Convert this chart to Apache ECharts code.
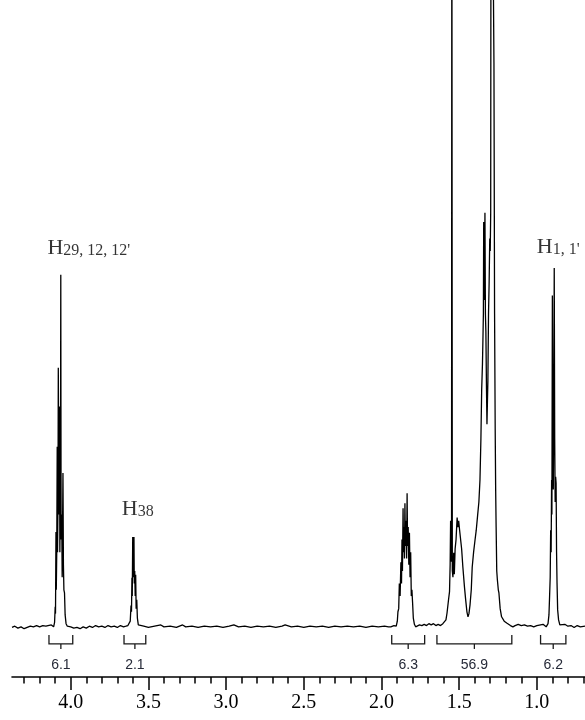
<!DOCTYPE html>
<html>
<head>
<meta charset="utf-8">
<title>1H NMR spectrum</title>
<script src="https://cdn.jsdelivr.net/npm/echarts@6/dist/echarts.min.js"></script>
<style>
  html, body { margin: 0; padding: 0; background: #fff; }
  #chart { width: 585px; height: 720px; }
</style>
</head>
<body>
<div id="chart"></div>
<script>
// Chemical shift window (ppm, axis runs right to left)
const ppmMin = 0.69;
const ppmMax = 4.378;

// Axis tick positions and labels
const majorTicks = [1.0, 1.5, 2.0, 2.5, 3.0, 3.5, 4.0];
const minorTicks = [0.7, 0.8, 0.9, 1.1, 1.2, 1.3, 1.4, 1.6, 1.7, 1.8, 1.9, 2.1, 2.2, 2.3, 2.4,
  2.6, 2.7, 2.8, 2.9, 3.1, 3.2, 3.3, 3.4, 3.6, 3.7, 3.8, 3.9, 4.1, 4.2, 4.3];

// Spectrum trace, [ppm, intensity] pairs, region by region
const baseLeft = [[4.378, 0.0], [4.36, 0.2], [4.34, -0.1], [4.32, 0.1], [4.30, -0.2], [4.28, 0.0],
  [4.26, 0.2], [4.24, 0.1], [4.22, 0.3], [4.20, 0.1], [4.18, 0.3], [4.16, 0.2]];
const peakH29 = [[4.150, 0.2], [4.125, 0.4], [4.110, 0.1], [4.104, 0.8], [4.100, 3.3], [4.098, 2.2],
  [4.095, 15.2], [4.093, 6.0], [4.090, 12.0], [4.087, 28.8], [4.085, 12.0], [4.082, 20.0],
  [4.080, 41.4], [4.077, 18.0], [4.075, 30.0], [4.072, 35.2], [4.070, 12.0], [4.066, 25.0],
  [4.064, 56.2], [4.062, 14.0], [4.058, 18.0], [4.055, 8.0], [4.050, 24.6], [4.047, 10.0],
  [4.044, 6.0], [4.040, 5.5], [4.036, 2.0], [4.030, 0.6], [4.022, 0.2]];
const baseMid1 = [[4.015, 0.3], [4.00, 0.1], [3.98, -0.1], [3.96, 0.0], [3.94, -0.2], [3.92, 0.1],
  [3.90, -0.1], [3.88, 0.2], [3.86, 0.0], [3.84, 0.3], [3.82, 0.1], [3.80, 0.2], [3.78, 0.0],
  [3.76, 0.3], [3.74, 0.1], [3.72, 0.2], [3.70, 0.0], [3.68, 0.3], [3.66, 0.1], [3.645, 0.2]];
const peakH38 = [[3.632, 0.3], [3.622, 0.4], [3.617, 1.0], [3.612, 3.5], [3.609, 2.5], [3.606, 7.9],
  [3.604, 5.0], [3.601, 14.4], [3.599, 9.0], [3.597, 12.0], [3.595, 8.0], [3.593, 14.4],
  [3.591, 7.0], [3.588, 9.0], [3.585, 5.0], [3.582, 8.4], [3.579, 3.0], [3.575, 4.4],
  [3.571, 1.5], [3.565, 0.4], [3.555, 0.1]];
const baseMid2 = [[3.53, 0.2], [3.50, 0.0], [3.46, 0.2], [3.42, 0.4], [3.40, 0.1], [3.36, 0.2],
  [3.32, 0.0], [3.28, 0.4], [3.26, 0.1], [3.22, 0.2], [3.18, 0.0], [3.14, 0.2], [3.10, 0.1],
  [3.06, 0.2], [3.02, 0.0], [2.98, 0.2], [2.95, 0.4], [2.92, 0.1], [2.88, 0.2], [2.84, 0.0],
  [2.80, 0.2], [2.76, 0.1], [2.72, 0.2], [2.68, 0.0], [2.64, 0.2], [2.62, 0.4], [2.58, 0.1],
  [2.54, 0.2], [2.50, 0.0], [2.46, 0.2], [2.42, 0.1], [2.38, 0.2], [2.34, 0.0], [2.30, 0.2],
  [2.26, 0.1], [2.22, 0.2], [2.18, 0.1], [2.14, 0.2], [2.10, 0.0], [2.06, 0.2], [2.02, 0.1],
  [1.98, 0.2], [1.955, 0.1]];
const peakH185 = [[1.940, 0.1], [1.920, 0.3], [1.905, 0.2], [1.898, 1.0], [1.894, 2.5], [1.889, 3.0],
  [1.885, 7.0], [1.880, 5.0], [1.875, 10.4], [1.871, 7.0], [1.868, 14.0], [1.865, 9.0],
  [1.861, 19.0], [1.858, 12.0], [1.855, 16.0], [1.852, 11.0], [1.849, 19.8], [1.846, 13.0],
  [1.842, 17.0], [1.838, 11.0], [1.835, 21.4], [1.832, 13.0], [1.828, 16.0], [1.824, 10.0],
  [1.820, 15.1], [1.816, 8.0], [1.812, 12.0], [1.808, 5.0], [1.804, 6.0], [1.800, 4.1],
  [1.795, 1.5], [1.788, 0.5], [1.780, 0.1]];
const baseMid3 = [[1.770, 0.2], [1.755, 0.4], [1.740, 0.3], [1.725, 0.5], [1.710, 0.3], [1.695, 0.6],
  [1.680, 0.4], [1.665, 0.6], [1.650, 0.3], [1.635, 0.5], [1.620, 0.3], [1.605, 0.6]];
const peakCH2 = [[1.595, 0.9], [1.585, 1.2], [1.578, 2.3], [1.568, 4.5], [1.562, 5.7], [1.558, 10.0],
  [1.555, 17.0], [1.552, 11.0], [1.549, 10.5], [1.547, 130], [1.544, 9.0], [1.540, 8.0],
  [1.535, 11.9], [1.531, 8.5], [1.526, 12.5], [1.520, 14.0], [1.513, 17.5], [1.508, 16.0],
  [1.503, 17.0], [1.497, 15.5], [1.490, 15.5], [1.484, 12.5], [1.476, 9.6], [1.466, 6.5],
  [1.458, 4.4], [1.450, 2.5], [1.443, 1.7], [1.437, 2.2], [1.430, 3.6], [1.422, 6.0],
  [1.416, 9.6], [1.407, 12.0], [1.398, 13.9], [1.390, 15.5], [1.381, 17.9], [1.373, 20.0],
  [1.366, 23.5], [1.360, 30.0], [1.355, 37.9], [1.350, 42.0], [1.347, 45.8], [1.344, 50.0],
  [1.342, 64.6], [1.339, 55.0], [1.337, 52.2], [1.334, 66.1], [1.331, 50.0], [1.328, 47.2],
  [1.324, 38.0], [1.321, 32.4], [1.318, 36.0], [1.315, 39.3], [1.311, 50.0], [1.307, 55.0],
  [1.303, 62.0], [1.300, 60.0], [1.297, 66.0], [1.294, 150], [1.291, 120], [1.288, 150],
  [1.285, 110], [1.282, 150], [1.279, 100], [1.276, 90.0], [1.272, 50.0], [1.268, 31.5],
  [1.265, 22.0], [1.262, 16.0], [1.258, 9.0], [1.254, 7.6], [1.248, 6.0], [1.244, 5.5],
  [1.236, 3.0], [1.227, 1.7], [1.210, 1.0], [1.194, 0.7], [1.170, 0.3], [1.154, 0.1]];
const baseMid4 = [[1.14, 0.3], [1.12, 0.5], [1.10, 0.3], [1.08, 0.4], [1.06, 0.2], [1.04, 0.3],
  [1.02, 0.1], [1.00, 0.3]];
const peakH1 = [[0.990, 0.2], [0.960, 0.5], [0.940, 0.1], [0.928, 0.6], [0.922, 2.0], [0.918, 4.9],
  [0.914, 8.0], [0.911, 15.5], [0.908, 12.0], [0.905, 23.5], [0.903, 18.0], [0.900, 52.9],
  [0.897, 30.0], [0.894, 22.0], [0.891, 35.0], [0.888, 57.3], [0.885, 30.0], [0.882, 20.0],
  [0.879, 24.0], [0.876, 23.0], [0.873, 12.0], [0.870, 7.1], [0.866, 2.8], [0.860, 1.2],
  [0.852, 0.4], [0.840, 0.1], [0.820, 0.5], [0.800, 0.2], [0.780, 0.3], [0.760, 0.0],
  [0.740, 0.3], [0.720, 0.1], [0.690, 0.2]];

// Integration regions (ppm bounds) and integral values
const integralStart = [4.140, 3.657, 1.934, 1.643, 0.976];
const integralEnd = [3.987, 3.517, 1.722, 1.161, 0.813];
const integralValues = ['6.1', '2.1', '6.3', '56.9', '6.2'];

// Peak assignments: shift of the labelled multiplet, atom symbol, subscript
const assignPpm = [4.064, 3.597, 0.888];
const assignAtom = ['H', 'H', 'H'];
const assignSub = ["29, 12, 12'", '38', "1, 1'"];

const spectrum = [].concat(baseLeft, peakH29, baseMid1, peakH38, baseMid2, peakH185,
  baseMid3, peakCH2, baseMid4, peakH1);

// Anchor each assignment on the tallest point of its multiplet
function apexNear(ppm) {
  let best = null;
  spectrum.forEach(p => {
    if (Math.abs(p[0] - ppm) <= 0.02 && (!best || p[1] > best[1])) best = p;
  });
  return best;
}
const labelOffsets = [[28, -16], [5, -17], [4, -10]];
const assignData = assignPpm.map((ppm, i) => {
  const apex = apexNear(ppm);
  return {
    value: [apex[0], apex[1]],
    label: {
      offset: labelOffsets[i],
      formatter: '{h|' + assignAtom[i] + '}{s|' + assignSub[i] + '}'
    }
  };
});

const serif = '"Liberation Serif", "Times New Roman", serif';
const sans = '"Liberation Sans", Arial, sans-serif';

const chart = echarts.init(document.getElementById('chart'), null, { renderer: 'canvas' });

const xAxisBase = {
  type: 'value',
  min: ppmMin,
  max: ppmMax,
  inverse: true,
  position: 'bottom',
  offset: 37,
  splitLine: { show: false }
};

chart.setOption({
  animation: false,
  backgroundColor: '#ffffff',
  grid: { left: 12, right: 0, top: 0, bottom: 80 },
  xAxis: [
    Object.assign({}, xAxisBase, {
      axisLine: { show: true, onZero: false, lineStyle: { color: '#000', width: 1.6 } },
      axisTick: { show: true, length: 13, lineStyle: { color: '#000', width: 1.5 },
        customValues: majorTicks },
      axisLabel: { show: true, customValues: majorTicks, margin: 16,
        formatter: v => v.toFixed(1),
        fontFamily: serif, fontSize: 20, color: '#000' }
    }),
    Object.assign({}, xAxisBase, {
      axisLine: { show: false, onZero: false },
      axisTick: { show: true, length: 6.5, lineStyle: { color: '#000', width: 1.5 },
        customValues: minorTicks },
      axisLabel: { show: false }
    })
  ],
  yAxis: {
    type: 'value',
    min: -2,
    max: 100,
    show: false,
    splitLine: { show: false }
  },
  series: [
    {
      type: 'line',
      data: spectrum,
      xAxisIndex: 0,
      showSymbol: false,
      symbol: 'none',
      clip: true,
      lineStyle: { color: '#000', width: 1.3 },
      silent: true
    },
    {
      // integral brackets with their values underneath
      type: 'custom',
      xAxisIndex: 0,
      data: integralStart.map((s, i) => [s, integralEnd[i]]),
      encode: { x: [0, 1] },
      clip: false,
      silent: true,
      renderItem: function (params, api) {
        const a = api.coord([api.value(0), 0]);
        const b = api.coord([api.value(1), 0]);
        const y0 = a[1];
        const top = y0 + 7.5, bar = y0 + 16.5, tick = y0 + 21.5;
        const mid = (a[0] + b[0]) / 2;
        const stroke = { stroke: '#1a1a1a', lineWidth: 1.3, fill: null };
        return {
          type: 'group',
          children: [
            { type: 'polyline', shape: { points: [[a[0], top], [a[0], bar], [b[0], bar], [b[0], top]] }, style: stroke },
            { type: 'line', shape: { x1: mid, y1: bar, x2: mid, y2: tick }, style: stroke },
            { type: 'text', x: mid, y: y0 + 37.5,
              style: { text: integralValues[params.dataIndex], font: '14px ' + sans,
                fill: '#262a38', align: 'center', verticalAlign: 'middle' } }
          ]
        };
      }
    },
    {
      // peak assignments
      type: 'scatter',
      xAxisIndex: 0,
      symbolSize: 0,
      silent: true,
      data: assignData,
      label: {
        show: true,
        position: 'top',
        distance: 0,
        color: '#000',
        rich: {
          h: { fontFamily: serif, fontSize: 22, lineHeight: 22, verticalAlign: 'top', color: '#000' },
          s: { fontFamily: serif, fontSize: 16, lineHeight: 16, padding: [9, 0, 0, 0], verticalAlign: 'bottom', color: '#000' }
        }
      }
    }
  ]
});
</script>
</body>
</html>
